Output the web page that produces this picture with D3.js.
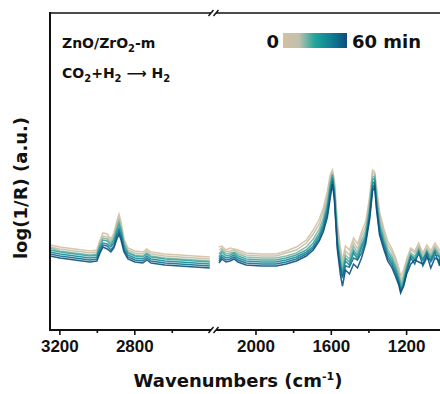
<!DOCTYPE html>
<html><head><meta charset="utf-8">
<script src="https://cdn.jsdelivr.net/npm/d3@7"></script>
<style>body{margin:0;background:#fff} svg{display:block}</style>
</head><body>
<svg id="c" width="440" height="394"></svg>
<script>
// time of each spectrum (min)
const times = [0, 10, 20, 30, 40, 50, 60];
// wavenumber grids (cm-1) of the two axis segments
const wnLeft = [3250,3197,3117,3037,3000,2983,2967,2945,2925,2909,2893,2882,2871,2855,2834,2797,2755,2733,2711,2637,2557,2477,2397];
const wnRight = [2194,2178,2157,2135,2114,2093,2050,1970,1890,1837,1783,1730,1693,1661,1640,1618,1602,1591,1581,1565,1549,1538,1522,1501,1479,1458,1437,1415,1394,1378,1367,1357,1341,1319,1298,1277,1255,1239,1229,1213,1197,1175,1154,1133,1111,1090,1069,1047,1026,1020];
// log(1/R), arbitrary units, one array per spectrum
const left0 = [85,83,81,79,80,90,97,96,91,97,109,116,108,91,82,79,78,81,78,76,75,74,73];
const left1 = [83,81,79,77,78,88,94,93,89,94,105,112,105,89,80,77,76,79,76,74,73,72,71];
const left2 = [82,79,77,75,76,86,92,91,87,92,103,109,102,87,78,75,74,77,74,72,71,70,69];
const left3 = [80,78,76,74,75,84,90,89,85,90,100,106,100,85,77,74,73,76,73,71,70,69,68];
const left4 = [78,76,74,72,73,82,87,86,83,87,97,102,96,82,75,72,71,74,71,69,68,67,66];
const left5 = [76,74,72,70,71,79,85,84,80,84,94,99,93,80,73,70,69,72,69,67,66,65,64];
const left6 = [74,72,70,68,69,77,83,81,78,82,91,96,90,78,71,68,67,70,67,65,64,63,62];
const right0 = [83,84,80,82,81,80,77,76,76,79,83,90,100,111,122,139,156,160,150,108,82,70,84,80,92,86,98,108,133,160,158,143,118,102,89,82,72,62,54,60,71,82,79,87,77,85,79,87,81,79];
const right1 = [80,82,78,79,80,78,75,74,74,77,80,87,96,106,118,134,152,158,147,101,77,66,79,75,88,81,94,103,129,157,156,138,114,98,85,79,69,58,50,56,68,80,77,84,75,82,76,84,78,76];
const right2 = [76,80,76,77,78,76,73,72,72,74,77,83,91,101,112,129,148,156,143,95,72,62,75,71,84,77,89,99,124,153,154,134,109,94,81,75,65,55,47,53,65,77,74,82,72,80,74,82,76,74];
const right3 = [73,78,74,75,77,74,71,70,70,72,75,80,87,97,108,125,145,155,140,90,68,58,72,68,80,74,85,95,120,150,152,130,105,90,78,72,62,52,44,50,62,75,72,80,70,78,72,80,74,72];
const right4 = [71,75,72,73,75,72,69,68,68,70,73,78,84,94,104,121,141,152,136,86,64,54,69,65,77,71,82,92,116,146,149,126,101,87,75,69,59,49,41,47,60,74,70,76,70,78,68,75,74,69];
const right5 = [69,73,70,71,73,70,67,66,66,68,71,76,82,91,101,117,137,149,133,83,62,52,64,63,72,70,77,89,113,142,146,123,98,84,72,66,56,47,39,45,58,72,66,78,64,72,70,78,66,70];
const right6 = [67,71,68,69,71,68,65,64,64,66,69,74,80,89,98,113,133,146,130,80,55,44,60,56,66,62,72,86,110,139,143,120,95,81,69,63,53,45,37,44,56,66,70,68,66,75,62,72,70,64];
// axis ticks
const majorLeft = [3200, 2800];
const minorLeft = [3000, 2600];
const majorRight = [2000, 1600, 1200];
const minorRight = [1800, 1400];
// colour bar stops
const barColors = ["#d4bfa3", "#bfc1ad", "#1ea59c", "#0f7f93", "#0c4e80"];

const leftSets = [left0,left1,left2,left3,left4,left5,left6];
const rightSets = [right0,right1,right2,right3,right4,right5,right6];

const svg = d3.select("#c");
const X0 = 50, X1 = 440, Y0 = 13, Y1 = 330;
const xL = d3.scaleLinear().domain([3250, 2380]).range([X0, 213]);
const xR = d3.scaleLinear().domain([2215, 1020]).range([215, X1]);
const y = d3.scaleLinear().domain([0, 317]).range([Y1, Y0]);
const tScale = d3.scaleLinear().domain([0, 60]).range([0, 1]);
const interp = d3.interpolateRgbBasis(barColors);

const lineL = d3.line().x((d, i) => xL(wnLeft[i])).y(d => y(d));
const lineR = d3.line().x((d, i) => xR(wnRight[i])).y(d => y(d));

const g = svg.append("g");
times.forEach((t, k) => {
  const col = interp(tScale(t));
  g.append("path").attr("d", lineL(leftSets[k])).attr("fill", "none")
    .attr("stroke", col).attr("stroke-width", 1.5).attr("stroke-opacity", 0.9);
  g.append("path").attr("d", lineR(rightSets[k])).attr("fill", "none")
    .attr("stroke", col).attr("stroke-width", 1.5).attr("stroke-opacity", 0.9);
});

// frame
svg.append("line").attr("x1", X0).attr("x2", X0).attr("y1", Y0 - 1).attr("y2", Y1 + 1).attr("stroke", "#111").attr("stroke-width", 2);
svg.append("line").attr("x1", X0).attr("x2", X1).attr("y1", Y0).attr("y2", Y0).attr("stroke", "#111").attr("stroke-width", 1.6);
svg.append("line").attr("x1", X0).attr("x2", X1).attr("y1", Y1).attr("y2", Y1).attr("stroke", "#111").attr("stroke-width", 2);

// axes
function addAxis(scale, major, minor) {
  const a = svg.append("g").attr("transform", `translate(0,${Y1})`)
    .call(d3.axisBottom(scale).tickValues(major).tickSize(5).tickPadding(5).tickFormat(d3.format("d")));
  a.select(".domain").remove();
  a.selectAll("line").attr("stroke", "#111").attr("stroke-width", 1.6);
  a.selectAll("text").attr("font-family", "Liberation Sans, Arial, sans-serif")
    .attr("font-weight", "bold").attr("font-size", 17).attr("fill", "#111");
  const m = svg.append("g").attr("transform", `translate(0,${Y1})`)
    .call(d3.axisBottom(scale).tickValues(minor).tickSize(3).tickFormat(""));
  m.select(".domain").remove();
  m.selectAll("line").attr("stroke", "#111").attr("stroke-width", 1.6);
}
addAxis(xL, majorLeft, minorLeft);
addAxis(xR, majorRight, minorRight);

// break marks
function breakMark(yy) {
  svg.append("rect").attr("x", 211).attr("y", yy - 2).attr("width", 5).attr("height", 4).attr("fill", "#fff");
  [211, 216].forEach(cx => {
    svg.append("line").attr("x1", cx - 2.5).attr("y1", yy + 3).attr("x2", cx + 2.5).attr("y2", yy - 3)
      .attr("stroke", "#111").attr("stroke-width", 1.4);
  });
}
breakMark(Y0);
breakMark(Y1);

const FONT = "DejaVu Sans, sans-serif";
// axis titles
const xt = svg.append("text").attr("x", 238).attr("y", 387).attr("text-anchor", "middle")
  .attr("font-family", FONT).attr("font-weight", "bold").attr("font-size", 18).attr("fill", "#111");
xt.append("tspan").text("Wavenumbers (cm");
xt.append("tspan").attr("font-size", 11).attr("dy", -7).text("-1");
xt.append("tspan").attr("dy", 7).text(")");

svg.append("text").attr("transform", "translate(27,188) rotate(-90)").attr("text-anchor", "middle")
  .attr("font-family", FONT).attr("font-weight", "bold").attr("font-size", 18).attr("fill", "#111")
  .text("log(1/R) (a.u.)");

// annotations
function chem(x, yy, parts) {
  const t = svg.append("text").attr("x", x).attr("y", yy).attr("font-family", FONT)
    .attr("font-weight", "bold").attr("font-size", 14).attr("fill", "#111");
  parts.forEach(p => {
    if (p.sub) t.append("tspan").attr("font-size", 10).attr("dy", 4).text(p.sub);
    else t.append("tspan").attr("dy", p.after ? -4 : 0).text(p.t);
  });
}
chem(62, 48, [{t: "ZnO/ZrO"}, {sub: "2"}, {t: "-m", after: true}]);
chem(62, 78, [{t: "CO"}, {sub: "2"}, {t: "+H", after: true}, {sub: "2"}, {t: " \u27F6 H", after: true}, {sub: "2"}]);

// colour bar legend
const grad = svg.append("defs").append("linearGradient").attr("id", "cb");
barColors.forEach((c, i) => grad.append("stop").attr("offset", i / (barColors.length - 1)).attr("stop-color", c));
svg.append("rect").attr("x", 283).attr("y", 33).attr("width", 64).attr("height", 15).attr("fill", "url(#cb)");
svg.append("text").attr("x", 279).attr("y", 48).attr("text-anchor", "end").attr("font-family", FONT)
  .attr("font-weight", "bold").attr("font-size", 18).attr("fill", "#111").text(times[0]);
svg.append("text").attr("x", 352).attr("y", 48).attr("font-family", FONT)
  .attr("font-weight", "bold").attr("font-size", 18).attr("fill", "#111").text(times[times.length - 1] + " min");
</script>
</body></html>
